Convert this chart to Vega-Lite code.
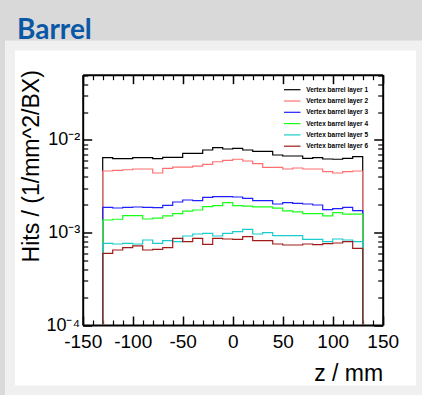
{
  "$schema": "https://vega.github.io/schema/vega-lite/v6.json",
  "width": 411,
  "height": 345,
  "autosize": {"type": "none"},
  "padding": {"left": 10, "top": 45.5, "right": 1, "bottom": 4.5},
  "background": "#d9d9d9",
  "config": {"font": "Liberation Sans"},
  "title": {"text": "Barrel", "anchor": "start", "frame": "group", "orient": "top", "offset": 9.5, "dx": 7, "dy": 31, "baseline": "alphabetic", "font": "Lato", "fontSize": 28, "fontWeight": "bold", "color": "#0a57a5"},
  "view": {"fill": "white", "stroke": "#f0f0f0", "strokeWidth": 10},
  "data": {"values": [
    {"k": 0, "z": -130, "L1": 0.0001, "L2": 0.0001, "L3": 0.0001, "L4": 0.0001, "L5": 0.0001, "L6": 0.0001},
    {"k": 1, "z": -130, "L1": 0.00644, "L2": 0.00462, "L3": 0.001873, "L4": 0.001365, "L5": 0.000764, "L6": 0.000596},
    {"k": 2, "z": -120, "L1": 0.00628, "L2": 0.0047, "L3": 0.00184, "L4": 0.00139, "L5": 0.000751, "L6": 0.000647},
    {"k": 3, "z": -110, "L1": 0.00628, "L2": 0.00477, "L3": 0.001873, "L4": 0.001519, "L5": 0.000764, "L6": 0.000685},
    {"k": 4, "z": -100, "L1": 0.00644, "L2": 0.00486, "L3": 0.001887, "L4": 0.001519, "L5": 0.000751, "L6": 0.000715},
    {"k": 5, "z": -90, "L1": 0.00644, "L2": 0.00486, "L3": 0.001873, "L4": 0.0014, "L5": 0.00083, "L6": 0.000647},
    {"k": 6, "z": -80, "L1": 0.00628, "L2": 0.0044, "L3": 0.001854, "L4": 0.00143, "L5": 0.000764, "L6": 0.000658},
    {"k": 7, "z": -70, "L1": 0.0065, "L2": 0.00494, "L3": 0.001968, "L4": 0.00151, "L5": 0.000815, "L6": 0.000685},
    {"k": 8, "z": -60, "L1": 0.0065, "L2": 0.0051, "L3": 0.002137, "L4": 0.0016, "L5": 0.000795, "L6": 0.000866},
    {"k": 9, "z": -50, "L1": 0.00718, "L2": 0.0051, "L3": 0.002245, "L4": 0.0017, "L5": 0.000917, "L6": 0.000795},
    {"k": 10, "z": -40, "L1": 0.00718, "L2": 0.00523, "L3": 0.002207, "L4": 0.00175, "L5": 0.000963, "L6": 0.000866},
    {"k": 11, "z": -30, "L1": 0.0078, "L2": 0.00546, "L3": 0.002402, "L4": 0.0019, "L5": 0.00098, "L6": 0.000745},
    {"k": 12, "z": -20, "L1": 0.00826, "L2": 0.00582, "L3": 0.002438, "L4": 0.00195, "L5": 0.000917, "L6": 0.000866},
    {"k": 13, "z": -10, "L1": 0.00799, "L2": 0.00603, "L3": 0.002438, "L4": 0.0021, "L5": 0.00098, "L6": 0.000851},
    {"k": 14, "z": 0, "L1": 0.00813, "L2": 0.00619, "L3": 0.00242, "L4": 0.00195, "L5": 0.00102, "L6": 0.000844},
    {"k": 15, "z": 10, "L1": 0.0078, "L2": 0.00593, "L3": 0.002343, "L4": 0.00193, "L5": 0.001083, "L6": 0.000901},
    {"k": 16, "z": 20, "L1": 0.00755, "L2": 0.00554, "L3": 0.002207, "L4": 0.00189, "L5": 0.000963, "L6": 0.000815},
    {"k": 17, "z": 30, "L1": 0.00755, "L2": 0.00507, "L3": 0.002207, "L4": 0.00189, "L5": 0.000995, "L6": 0.000815},
    {"k": 18, "z": 40, "L1": 0.00688, "L2": 0.00507, "L3": 0.002033, "L4": 0.00183, "L5": 0.000923, "L6": 0.000751},
    {"k": 19, "z": 50, "L1": 0.00671, "L2": 0.00486, "L3": 0.0021, "L4": 0.00171, "L5": 0.000923, "L6": 0.000733},
    {"k": 20, "z": 60, "L1": 0.00671, "L2": 0.00498, "L3": 0.002069, "L4": 0.00167, "L5": 0.000923, "L6": 0.000733},
    {"k": 21, "z": 70, "L1": 0.00634, "L2": 0.00486, "L3": 0.002033, "L4": 0.0016, "L5": 0.000844, "L6": 0.000751},
    {"k": 22, "z": 80, "L1": 0.00644, "L2": 0.00486, "L3": 0.001982, "L4": 0.0016, "L5": 0.000844, "L6": 0.000738},
    {"k": 23, "z": 90, "L1": 0.00623, "L2": 0.00454, "L3": 0.001764, "L4": 0.00151, "L5": 0.000795, "L6": 0.000757},
    {"k": 24, "z": 100, "L1": 0.00619, "L2": 0.0044, "L3": 0.001808, "L4": 0.00164, "L5": 0.000851, "L6": 0.00077},
    {"k": 25, "z": 110, "L1": 0.00634, "L2": 0.00454, "L3": 0.001873, "L4": 0.00158, "L5": 0.00083, "L6": 0.000795},
    {"k": 26, "z": 120, "L1": 0.0066, "L2": 0.00462, "L3": 0.001721, "L4": 0.00158, "L5": 0.000795, "L6": 0.000675},
    {"k": 27, "z": 130, "L1": 0.0066, "L2": 0.00462, "L3": 0.001721, "L4": 0.00158, "L5": 0.000795, "L6": 0.000675},
    {"k": 28, "z": 130, "L1": 0.0001, "L2": 0.0001, "L3": 0.0001, "L4": 0.0001, "L5": 0.0001, "L6": 0.0001}
  ]},
  "transform": [{"fold": ["L1", "L2", "L3", "L4", "L5", "L6"], "as": ["layer", "hits"]}],
  "resolve": {"axis": {"x": "independent", "y": "independent"}},
  "layer": [
    {
      "mark": {"type": "line", "interpolate": "step-after", "strokeWidth": 1.2},
      "encoding": {
        "x": {"field": "z", "type": "quantitative", "scale": {"domain": [-150, 150], "range": [72.7, 372.7], "nice": false, "zero": false},
          "axis": {"orient": "bottom", "offset": -65.5, "values": [-150, -100, -50, 0, 50, 100, 150], "labelExpr": "datum.value < 0 ? '-' + abs(datum.value) : '' + datum.value", "tickSize": -9, "tickWidth": 1.5, "tickColor": "#000", "domain": true, "domainWidth": 2, "domainColor": "#000", "grid": false, "labelFontSize": 19, "labelColor": "#000", "labelPadding": 16, "labelFlush": false, "title": "z / mm", "titleX": 372.7, "titleY": 55, "titleAlign": "right", "titleBaseline": "alphabetic", "titleFontSize": 23, "titleFontWeight": "normal", "titleColor": "#000"}},
        "y": {"field": "hits", "type": "quantitative", "scale": {"type": "log", "domain": [0.0001, 0.0508], "range": [279.5, 29.2], "nice": false},
          "axis": {"orient": "left", "offset": -72.7, "values": [0.0001, 0.001, 0.01], "labelExpr": "datum.value < 0.0005 ? '10⁻⁴' : datum.value < 0.005 ? '10⁻³' : '10⁻²'", "tickSize": -9, "tickWidth": 1.5, "tickColor": "#000", "domain": true, "domainWidth": 2, "domainColor": "#000", "grid": false, "labelFontSize": 18, "labelColor": "#000", "labelPadding": 12, "labelFlush": false, "title": "Hits / (1/mm^2/BX)", "titleX": -44.5, "titleY": 24.2, "titleAngle": -90, "titleAlign": "right", "titleBaseline": "alphabetic", "titleFontSize": 23, "titleFontWeight": "normal", "titleColor": "#000"}},
        "color": {"field": "layer", "type": "nominal",
          "scale": {"domain": ["L1", "L2", "L3", "L4", "L5", "L6"], "range": ["#000000", "#ff6f6f", "#1f1fff", "#19ff19", "#19cccc", "#a31a1a"]},
          "legend": {"orient": "none", "legendX": 275.75, "legendY": 37.7, "title": null, "symbolType": "M-1.5,0H1.5", "symbolSize": 121, "symbolStrokeWidth": 1.2, "labelFont": "Liberation Sans", "labelFontWeight": "bold", "labelFontSize": 6.5, "labelColor": "#000", "rowPadding": 1.3, "labelOffset": 7.5, "padding": 0, "labelExpr": "'Vertex barrel layer ' + substring(datum.label, 1)"}},
        "order": {"field": "k", "type": "quantitative"}
      }
    },
    {
      "mark": {"type": "point", "opacity": 0},
      "encoding": {
        "x": {"field": "z", "type": "quantitative", "scale": {"domain": [-150, 150], "range": [72.7, 372.7], "nice": false, "zero": false},
          "axis": {"orient": "bottom", "offset": -65.5, "values": [-140, -130, -120, -110, -90, -80, -70, -60, -40, -30, -20, -10, 10, 20, 30, 40, 60, 70, 80, 90, 110, 120, 130, 140], "tickSize": -5, "tickWidth": 1.2, "tickColor": "#000", "domain": false, "grid": false, "labels": false, "title": null}},
        "y": {"field": "hits", "type": "quantitative", "scale": {"type": "log", "domain": [0.0001, 0.0508], "range": [279.5, 29.2], "nice": false},
          "axis": {"orient": "left", "offset": -72.7, "values": [0.0002, 0.0003, 0.0004, 0.0005, 0.0006, 0.0007, 0.0008, 0.0009, 0.002, 0.003, 0.004, 0.005, 0.006, 0.007, 0.008, 0.009, 0.02, 0.03, 0.04, 0.05], "tickSize": -5, "tickWidth": 1.2, "tickColor": "#000", "domain": false, "grid": false, "labels": false, "title": null}}
      }
    },
    {
      "mark": {"type": "point", "opacity": 0},
      "encoding": {
        "x": {"field": "z", "type": "quantitative", "scale": {"domain": [-150, 150], "range": [72.7, 372.7], "nice": false, "zero": false},
          "axis": {"orient": "top", "offset": -29.2, "values": [-150, -100, -50, 0, 50, 100, 150], "tickSize": -9, "tickWidth": 1.5, "tickColor": "#000", "domain": true, "domainWidth": 2, "domainColor": "#000", "grid": false, "labels": false, "title": null}},
        "y": {"field": "hits", "type": "quantitative", "scale": {"type": "log", "domain": [0.0001, 0.0508], "range": [279.5, 29.2], "nice": false},
          "axis": {"orient": "right", "offset": -38.3, "values": [0.0001, 0.001, 0.01], "tickSize": -9, "tickWidth": 1.5, "tickColor": "#000", "domain": true, "domainWidth": 2, "domainColor": "#000", "grid": false, "labels": false, "title": null}}
      }
    },
    {
      "mark": {"type": "point", "opacity": 0},
      "encoding": {
        "x": {"field": "z", "type": "quantitative", "scale": {"domain": [-150, 150], "range": [72.7, 372.7], "nice": false, "zero": false},
          "axis": {"orient": "top", "offset": -29.2, "values": [-140, -130, -120, -110, -90, -80, -70, -60, -40, -30, -20, -10, 10, 20, 30, 40, 60, 70, 80, 90, 110, 120, 130, 140], "tickSize": -5, "tickWidth": 1.2, "tickColor": "#000", "domain": false, "grid": false, "labels": false, "title": null}},
        "y": {"field": "hits", "type": "quantitative", "scale": {"type": "log", "domain": [0.0001, 0.0508], "range": [279.5, 29.2], "nice": false},
          "axis": {"orient": "right", "offset": -38.3, "values": [0.0002, 0.0003, 0.0004, 0.0005, 0.0006, 0.0007, 0.0008, 0.0009, 0.002, 0.003, 0.004, 0.005, 0.006, 0.007, 0.008, 0.009, 0.02, 0.03, 0.04, 0.05], "tickSize": -5, "tickWidth": 1.2, "tickColor": "#000", "domain": false, "grid": false, "labels": false, "title": null}}
      }
    }
  ]
}
